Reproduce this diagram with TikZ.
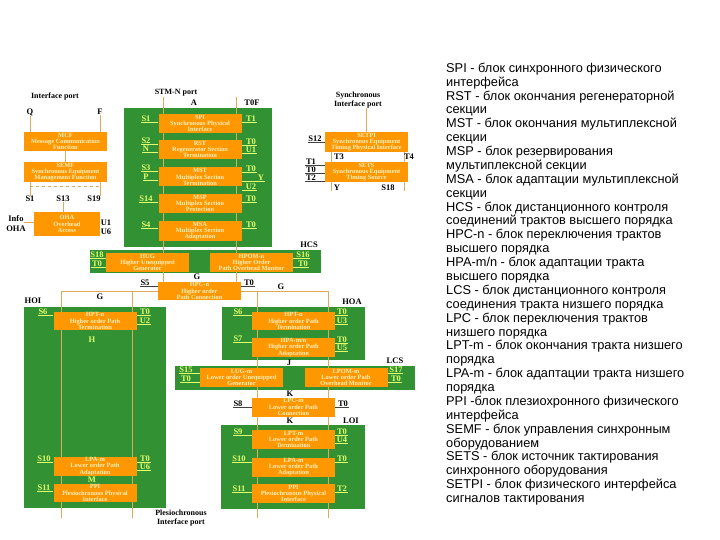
\documentclass[tikz,border=0pt]{standalone}
\usepackage{fontspec}
\setmainfont{Liberation Serif}
\newfontfamily\legendfont{Liberation Sans}
\usetikzlibrary{arrows.meta,positioning,calc}
\definecolor{sdhgreen}{RGB}{50,145,50}
\definecolor{sdhorange}{RGB}{255,152,0}
\definecolor{sdhline}{RGB}{222,170,90}
\definecolor{sdhyellow}{RGB}{225,255,110}
\definecolor{sdhtext}{RGB}{255,240,190}
\pgfdeclarelayer{bg}
\pgfdeclarelayer{wires}
\pgfsetlayers{bg,wires,main}
\tikzset{
  blk/.style   = {fill=sdhorange, minimum width=83pt, minimum height=19pt,
                  inner sep=0pt, align=center, text=sdhtext,
                  font=\fontsize{6.4}{6.1}\selectfont\bfseries},
  area/.style  = {fill=sdhgreen},
  lbl/.style   = {text=sdhyellow, inner sep=0.4pt,
                  font=\fontsize{8.5}{8.5}\selectfont\bfseries},
  plbl/.style  = {text=black, inner sep=0.4pt,
                  font=\fontsize{8.5}{8.5}\selectfont\bfseries},
  port/.style  = {text=black, inner sep=0pt, align=center,
                  font=\fontsize{8}{8.5}\selectfont\bfseries},
  ln/.style    = {draw=sdhline, line width=0.8pt},
  tick/.style  = {draw=sdhyellow, line width=0.5pt},
  ptick/.style = {draw=black!75, line width=0.5pt},
  leg/.style   = {anchor=base west, inner sep=0pt,
                  font=\legendfont\fontsize{12.8}{14}\selectfont}
}

\begin{document}
\begin{tikzpicture}[x=1pt,y=-1pt]
  \useasboundingbox (0,0) rectangle (720,540);

  \begin{pgfonlayer}{bg}
    \fill[area] (124,108) rectangle (272,247);
    \fill[area] (90,250) rectangle (321,273);
    \fill[area] (24,307) rectangle (166,508);
    \fill[area] (222,307) rectangle (365,360);
    \fill[area] (175,366) rectangle (415,390);
    \fill[area] (221,425) rectangle (365,509);
  \end{pgfonlayer}

  \node[blk] (spi) at (200,123.5) {SPI\\Synchronous Physical\\Interface};
  \node[blk] (rst) at (200,149.5) {RST\\Regenerator Section\\Termination};
  \node[blk] (mst) at (200,177)   {MST\\Multiplex Section\\Termination};
  \node[blk] (msp) at (200,203.5) {MSP\\Multiplex Section\\Protection};
  \node[blk] (msa) at (200,231)   {MSA\\Multiplex Section\\Adaptation};
  \node[blk] (hug) at (147.5,262.5) {HUG\\Higher Unequipped\\Generator};
  \node[blk] (hpom) at (251.5,262.5) {HPOM-n\\Higher Order\\Path Overhead Monitor};
  \node[blk, minimum height=18pt] (hpc) at (199.5,291) {HPC-n\\Higher order\\Path Connection};
  \node[blk, minimum height=18pt] (hpta) at (95,321) {HPT-n\\Higher order Path\\Termination};
  \node[blk] (lpaa) at (95,466.5) {LPA-m\\Lower order Path\\Adaptation};
  \node[blk, minimum height=18pt] (ppia) at (95,493) {PPI\\Plesiochronous Physical\\Interface};
  \node[blk, minimum height=18pt] (hptb) at (293.5,321) {HPT-n\\Higher order Path\\Termination};
  \node[blk] (hpab) at (293.5,347.5) {HPA-m/n\\Higher order Path\\Adaptation};
  \node[blk] (lug) at (241.5,377.5) {LUG-m\\Lower order Unequipped\\Generator};
  \node[blk] (lpom) at (346,377.5) {LPOM-m\\Lower order Path\\Overhead Monitor};
  \node[blk] (lpc) at (293.5,407) {LPC-m\\Lower order Path\\Connection};
  \node[blk] (lptb) at (293.5,439.5) {LPT-m\\Lower order Path\\Termination};
  \node[blk] (lpab) at (293.5,467) {LPA-m\\Lower order Path\\Adaptation};
  \node[blk] (ppib) at (293.5,493.5) {PPI\\Plesiochronous Physical\\Interface};
  \node[blk] (mcf) at (65.5,141.5) {MCF\\Message Communication\\Function};
  \node[blk, minimum height=20pt] (semf) at (65.5,172) {SEMF\\Synchronous Equipment\\Management Function};
  \node[blk, minimum width=66pt, minimum height=24pt] (oha) at (67,224) {OHA\\Overhead\\Access};
  \node[blk, minimum height=20pt] (setpi) at (366.5,142) {SETPI\\Synchronous Equipment\\Timing Physical Interface};
  \node[blk, minimum height=20pt] (sets) at (366.5,172) {SETS\\Synchronous Equipment\\Timing Source};

  \node[port] (stmport) at (176,93) {STM-N port};
  \node[port] (ifport) at (55,97) {Interface port};
  \node[port] (syncport) at (358,100) {Synchronous\\Interface port};
  \node[port] (plport) at (181,518) {Plesiochronous\\Interface port};
  \node[plbl] (pa) at (194,103) {A};
  \node[plbl] (ptof) at (252,103) {T0F};
  \node[plbl] (pq) at (30,112) {Q};
  \node[plbl] (pf) at (100,112) {F};
  \node[plbl] (ms1) at (30,199) {S1};
  \node[plbl] (ms13) at (63,199) {S13};
  \node[plbl] (ms19) at (94,199) {S19};
  \node[plbl] (minfo) at (16,219) {Info};
  \node[plbl] (moha) at (16,229) {OHA};
  \node[plbl] (mu1) at (106,223) {U1};
  \node[plbl] (mu6) at (106,232) {U6};
  \node[plbl] (ms12) at (315,139) {S12};
  \node[plbl] (mt3) at (339,157) {T3};
  \node[plbl] (mt4) at (409,157) {T4};
  \node[plbl] (my) at (337,188) {Y};
  \node[plbl] (ms18) at (388,188) {S18};
  \node[plbl] (hcs) at (309,245) {HCS};
  \node[plbl] (pg1) at (197,277) {G};
  \node[plbl] (pg2) at (100,297) {G};
  \node[plbl] (pg3) at (281,287) {G};
  \node[plbl] (hoi) at (33,301) {HOI};
  \node[plbl] (hoa) at (352,302) {HOA};
  \node[lbl] (ph) at (92,340) {H};
  \node[lbl] (pm) at (92,480) {M};
  \node[plbl] (pj) at (289,363) {J};
  \node[plbl] (lcs) at (395,361) {LCS};
  \node[plbl] (pk1) at (290,394) {K};
  \node[plbl] (pk2) at (290,421) {K};
  \node[plbl] (loi) at (351,421) {LOI};

  \foreach \nm/\bx/\xx/\yy/\tx in {
      ls1/spi/146/119/S1, ls2/rst/146/141/S2, lsn/rst/146/149/N,
      ls3/mst/146/168/S3, lsp/mst/146/177/P, ls14/msp/146/199/S14,
      ls4/msa/146/225/S4, ls18/hug/97/255/S18, lt0h/hug/97/264/T0,
      ls6a/hpta/43/312/S6, ls10a/lpaa/44/459/S10, ls11a/ppia/44/488/S11,
      ls6b/hptb/238/312/S6, ls7/hpab/238/339/S7,
      ls15/lug/186/370/S15, lt0l/lug/186/379/T0,
      ls9/lptb/238/432/S9, ls10b/lpab/239/459/S10, ls11b/ppib/239/489/S11}
    {\node[lbl] (\nm) at (\xx,\yy) {\tx};
     \draw[tick] (\nm.south west) -- (\nm.south west -| \bx.west);}

  \foreach \nm/\bx/\xx/\yy/\tx in {
      rt1/spi/251/119/T1, rt0a/rst/251/142/T0, ru1/rst/251/150/U1,
      rt0b/mst/251/169/T0, ry/mst/261/178/Y, ru2/mst/251/187/U2,
      rt0c/msp/251/199/T0, rt0d/msa/251/225/T0,
      rs16/hpom/303/255/S16, rt0e/hpom/303/264/T0,
      rt0f/hpta/145/312/T0, ru2a/hpta/145/321/U2,
      rt0g/lpaa/145/459/T0, ru6/lpaa/145/467/U6,
      rt0h/hptb/342/312/T0, ru3/hptb/342/321/U3,
      rt0i/hpab/342/340/T0, ru5/hpab/342/348/U5,
      rs17/lpom/396/370/S17, rt0j/lpom/396/379/T0,
      rt0k/lptb/342/432/T0, ru4/lptb/342/440/U4,
      rt0l/lpab/342/459/T0, rt2/ppib/342/489/T2}
    {\node[lbl] (\nm) at (\xx,\yy) {\tx};
     \draw[tick] (\nm.south east) -- (\nm.south east -| \bx.east);}

  \node[plbl] (ms5) at (145,283) {S5};
  \node[plbl] (mt0a) at (249,283) {T0};
  \node[plbl] (ms8) at (238,404) {S8};
  \node[plbl] (mt0b) at (343,404) {T0};
  \node[plbl] (mt1) at (311,162) {T1};
  \node[plbl] (mt0) at (311,170) {T0};
  \node[plbl] (mt2) at (311,178) {T2};
  \draw[ptick] (ms5.south west) -- (ms5.south west -| hpc.west);
  \draw[ptick] (mt0a.south east) -- (mt0a.south east -| hpc.east);
  \draw[ptick] (ms8.south west) -- (ms8.south west -| lpc.west);
  \draw[ptick] (mt0b.south east) -- (mt0b.south east -| lpc.east);
  \draw[ptick] (ms12.south west) -- (ms12.south west -| setpi.west);
  \draw[ptick] (mt1.south west) -- (mt1.south west -| sets.west);
  \draw[ptick] (mt0.south west) -- (mt0.south west -| sets.west);
  \draw[ptick] (mt2.south west) -- (mt2.south west -| sets.west);

  \begin{pgfonlayer}{wires}
    \coordinate (ta) at (163,97);
    \coordinate (tb) at (236,97);
    \coordinate (ha) at (61,518);
    \coordinate (hb) at (132,518);
    \coordinate (la) at (257,518);
    \coordinate (lb) at (328,518);
    \draw[ln] (ta) -- (ta |- hpc.north);
    \draw[ln] (tb) -- (tb |- hpc.north);
    \draw[ln] (hpc.west) -| (ha);
    \draw[ln] (hb |- hpc.west) -- (hb);
    \draw[ln] (hpc.east) -| (lb);
    \draw[ln] (la |- hpc.east) -- (la);
    \draw[ln] (pq.south) -- (pq.south |- mcf.north);
    \draw[ln] (pf.south) -- (pf.south |- mcf.north);
    \draw[ln] (mcf.south) -- (semf.north);
    \draw[ln] (ms1.north |- semf.south) -- (ms1.north);
    \draw[ln] (pf.south |- semf.south) -- (pf.south |- ms19.north);
    \draw[ln, dashed] (ms1.north |- 0,186) -- (pf.south |- 0,186);
    \draw[ln] (ms13.south) -- (ms13.south |- oha.north);
    \draw[ln] (minfo.south east) -- (minfo.south east -| oha.west);
    \draw[ln] (oha.east |- mu1.west) -- (mu1.west);
    \draw[ln] (oha.east |- mu6.west) -- (mu6.west);
    \draw[ln] (setpi.north |- syncport.south) -- (setpi.north);
    \coordinate (sa) at ($(setpi.south west)+(7,0)$);
    \coordinate (sb) at ($(setpi.south east)+(-4,0)$);
    \draw[ln] (sa) -- (sa |- sets.north);
    \draw[ln] (sb) -- (sb |- sets.north);
    \draw[ln] (sa |- sets.south) -- (sa |- my.south);
    \draw[ln] (sb |- sets.south) -- (sb |- ms18.south);
  \end{pgfonlayer}

  \foreach \t [count=\i from 0] in {
      SPI - блок синхронного физического, интерфейса,
      RST - блок окончания регенераторной, секции,
      MST - блок окончания мультиплексной, секции,
      MSP - блок резервирования, мультиплексной секции,
      MSA - блок адаптации мультиплексной, секции,
      HCS - блок дистанционного контроля,
      соединений трактов высшего порядка,
      HPC-n - блок переключения трактов, высшего порядка,
      HPA-m/n - блок адаптации тракта, высшего порядка,
      LCS - блок дистанционного контроля,
      соединения тракта низшего порядка,
      LPC - блок переключения трактов, низшего порядка,
      LPT-m  - блок окончания тракта низшего, порядка,
      LPA-m - блок адаптации тракта низшего, порядка,
      PPI -блок плезиохронного физического, интерфейса,
      SEMF - блок управления синхронным, оборудованием,
      SETS - блок источник тактирования, синхронного оборудования,
      SETPI - блок физического интерфейса, сигналов тактирования}
    \node[leg] (leg\i) at (446,72.3+13.88*\i) {\t};
\end{tikzpicture}
\end{document}
